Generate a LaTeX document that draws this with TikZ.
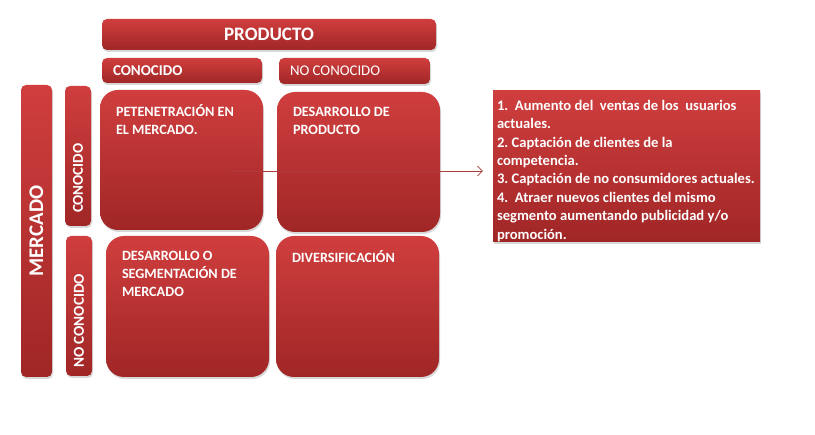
\documentclass[tikz,border=0pt]{standalone}
\usepackage{fontspec}
\setmainfont{Carlito}
\usetikzlibrary{shadows, arrows.meta, calc}

\definecolor{redtop}{RGB}{208,62,62}
\definecolor{redbot}{RGB}{160,38,38}
\definecolor{linkred}{RGB}{170,60,60}

\tikzset{
    redbox/.style={draw=none, top color=redtop, bottom color=redbot, inner sep=0pt,
        drop shadow={opacity=0.3, shadow xshift=1pt, shadow yshift=-2pt}},
    bigcell/.style={redbox, rounded corners=18pt, minimum width=163pt, minimum height=140pt},
    tabbox/.style={redbox, rounded corners=5pt},
    celltext/.style={anchor=north west, inner sep=0pt, align=left, text=white,
        font=\bfseries\fontsize{14.2}{18}\selectfont},
    tabtext/.style={inner sep=0pt, text=white, font=\fontsize{14.8}{16}\selectfont},
    linkarrow/.style={draw=linkred, line width=0.6pt, -{Straight Barb[length=5pt,width=10pt]}},
}

\begin{document}
\begin{tikzpicture}[x=1pt, y=-1pt]
    \fill[white] (0,0) rectangle (815,435);
    \useasboundingbox (0,0) rectangle (815,435);

    % column header: PRODUCTO
    \node[tabbox, minimum width=334pt, minimum height=31pt] (producto) at (269,34.5) {};
    \node[tabtext, font=\bfseries\fontsize{19}{21}\selectfont] at (producto) {PRODUCTO};
    \node[tabbox, minimum width=160pt, minimum height=25pt] (pconocido) at (182,70.5) {};
    \node[tabtext, font=\bfseries\fontsize{15}{16}\selectfont, anchor=west]
        at ([xshift=11pt]pconocido.west) {CONOCIDO};
    \node[tabbox, minimum width=151pt, minimum height=26pt] (pnoconocido) at (354.5,71) {};
    \node[tabtext, anchor=west] at ([xshift=11pt]pnoconocido.west) {NO CONOCIDO};

    % row header: MERCADO
    \node[tabbox, minimum width=31pt, minimum height=292pt] (mercado) at (36.5,231) {};
    \node[tabtext, font=\bfseries\fontsize{20.8}{22}\selectfont, rotate=90] at (mercado) {MERCADO};
    \node[tabbox, minimum width=26pt, minimum height=140pt] (mconocido) at (78,156) {};
    \node[tabtext, font=\bfseries\fontsize{15}{16}\selectfont, rotate=90, anchor=west]
        at ([yshift=13pt]mconocido.south) {CONOCIDO};
    \node[tabbox, minimum width=26pt, minimum height=140pt] (mnoconocido) at (79,306) {};
    \node[tabtext, font=\bfseries\fontsize{15.2}{16}\selectfont, rotate=90, anchor=west]
        at ([yshift=8pt]mnoconocido.south) {NO CONOCIDO};

    % the four strategies
    \node[bigcell] (penetracion) at (181.5,160) {};
    \node[celltext] at ([xshift=16pt,yshift=-15pt]penetracion.north west)
        {PETENETRACIÓN EN\\EL MERCADO.};
    \node[bigcell] (desproducto) at (358.5,162) {};
    \node[celltext] at ([xshift=16pt,yshift=-15pt]desproducto.north west)
        {DESARROLLO DE\\PRODUCTO};
    \node[bigcell, minimum height=141pt] (desmercado) at (187.5,306.5) {};
    \node[celltext] at ([xshift=16pt,yshift=-15pt]desmercado.north west)
        {DESARROLLO O\\SEGMENTACIÓN DE\\MERCADO};
    \node[bigcell, minimum height=141pt] (diversif) at (357.5,306.5) {};
    \node[celltext] at ([xshift=16pt,yshift=-15pt]diversif.north west)
        {DIVERSIFICACIÓN};

    % detail of market penetration
    \node[redbox, minimum width=267pt, minimum height=151pt] (detalle) at (626.5,166.5) {};
    \node[celltext, font=\bfseries\fontsize{14.6}{18.4}\selectfont]
        at ([xshift=4pt,yshift=-9pt]detalle.north west)
        {1.\ \ Aumento del\ \ ventas de los\ \ usuarios\\actuales.\\
         2.\ Captación de clientes de la\\competencia.\\
         3.\ Captación de no consumidores actuales.\\
         4.\ \ Atraer nuevos clientes del mismo\\segmento aumentando publicidad y/o\\promoción.};

    % link from the first cell to its detail
    \coordinate (linkstart) at (230,171);
    \draw[linkarrow, shorten >=10pt] (linkstart) -- (linkstart -| detalle.west);
\end{tikzpicture}
\end{document}
